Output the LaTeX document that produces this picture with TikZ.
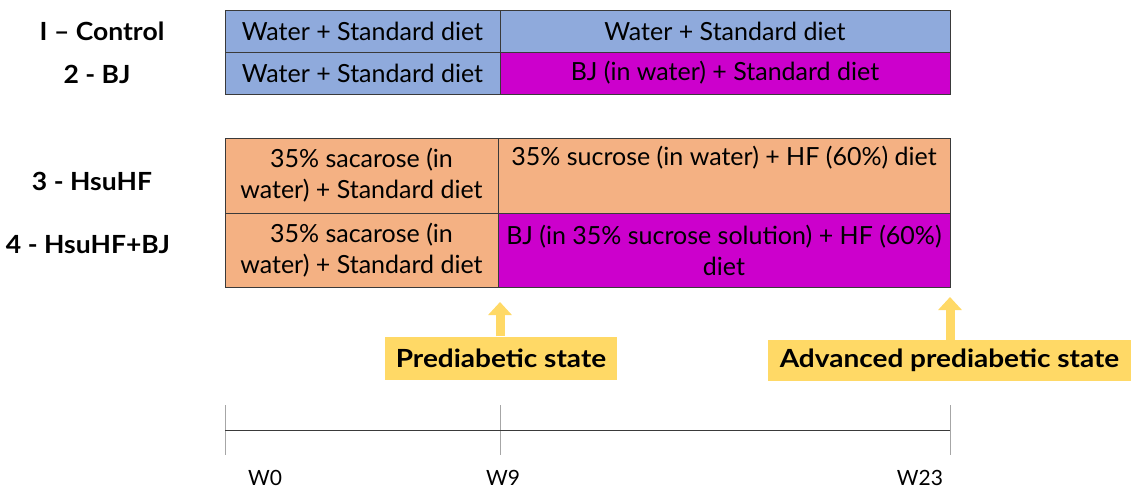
\documentclass[tikz,border=0pt]{standalone}
\usepackage{fontspec}
\setmainfont{Lato}
\newfontfamily\wbf[FakeStretch=1.12]{Lato}
\newfontfamily\lbf[FakeStretch=1.06]{Lato}
\usetikzlibrary{arrows.meta}
\definecolor{cblue}{HTML}{8FAADC}
\definecolor{cmag}{HTML}{CC00CC}
\definecolor{cpeach}{HTML}{F4B183}
\definecolor{cyel}{HTML}{FFD966}
\definecolor{cline}{HTML}{3A3A3A}
\begin{document}
\begin{tikzpicture}[x=1pt,y=-1pt,
  cell/.style={draw=cline, line width=1pt, anchor=north west, inner sep=0pt, outer sep=0pt,
    align=center, font=\fontsize{25}{31}\selectfont},
  grp/.style={font=\lbf\bfseries\fontsize{25}{30}\selectfont},
  state/.style={fill=cyel, inner sep=0pt, font=\wbf\bfseries\fontsize{25}{30}\selectfont},
  yarrow/.style={cyel, line width=9pt, -{Triangle[length=13pt,width=23pt]}},
  tick/.style={draw=gray!70, line width=0.8pt},
  wk/.style={font=\fontsize{21}{25}\selectfont}]
\useasboundingbox (0,0) rectangle (1132,491);
% group labels
\node[grp] (g1) at (102,31) {I – Control};
\node[grp] (g2) at (97,74) {2 - BJ};
\node[grp] (g3) at (92,181) {3 - HsuHF};
\node[grp] (g4) at (88,245) {4 - HsuHF+BJ};
% cells
\node[cell, fill=cblue, minimum width=275pt, minimum height=42pt] (c11) at (225,10) {Water + Standard diet};
\node[cell, fill=cblue, minimum width=450pt, minimum height=42pt] (c12) at (500,10) {Water + Standard diet};
\node[cell, fill=cblue, minimum width=275pt, minimum height=42pt] (c21) at (225,52) {Water + Standard diet};
\node[cell, fill=cmag, minimum width=450pt, minimum height=42pt] (c22) at (500,52) {BJ (in water) + Standard diet};
\node[cell, fill=cpeach, minimum width=273pt, minimum height=75pt] (c31) at (225,138) {35\% sacarose (in\\water) + Standard diet};
\node[cell, fill=cpeach, minimum width=452pt, minimum height=75pt] (c32) at (498,138) {35\% sucrose (in water) + HF (60\%) diet\\\strut};
\node[cell, fill=cpeach, minimum width=273pt, minimum height=74pt] (c41) at (225,213) {35\% sacarose (in\\water) + Standard diet};
\node[cell, fill=cmag, minimum width=452pt, minimum height=74pt] (c42) at (498,213) {BJ (in 35\% sucrose solution) + HF (60\%)\\diet};
% states
\node[state, minimum width=232pt, minimum height=43pt] (pre) at (501,358) {Prediabetic state};
\node[state, minimum width=363pt, minimum height=41pt] (adv) at (949.5,360.5) {Advanced prediabetic state};
\coordinate (pretip) at (500,302);
\coordinate (advtip) at (950,297);
\draw[yarrow] (pre.north -| pretip) -- (pretip);
\draw[yarrow] (adv.north -| advtip) -- (advtip);
% timeline
\coordinate (t0) at (225,430);
\coordinate (t9) at (500,430);
\coordinate (t23) at (950,430);
\draw[tick] (225,405) -- (225,455);
\draw[tick] (500,405) -- (500,455);
\draw[tick] (950,405) -- (950,455);
\draw[cline, line width=0.8pt] (t0) -- (t23);
\node[wk] (w0) at (265,478) {W0};
\node[wk] (w9) at (503,478) {W9};
\node[wk] (w23) at (920,478) {W23};
\end{tikzpicture}
\end{document}
